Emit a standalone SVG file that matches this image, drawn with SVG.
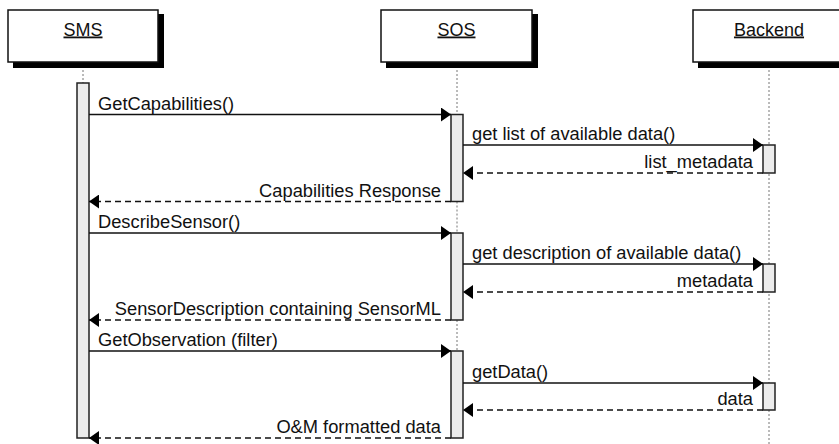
<svg xmlns="http://www.w3.org/2000/svg" width="839" height="444" viewBox="0 0 839 444">
  <style>
    text { font-family: "Liberation Sans", Arial, sans-serif; font-size: 18.3px; fill: #111; }
    .title { text-anchor: middle; text-decoration: underline; font-size: 18px; }
    .end { text-anchor: end; }
    .box { fill: #fff; stroke: #111; stroke-width: 1.5; }
    .shadow { fill: #000; }
    .life { stroke: #777; stroke-width: 1; stroke-dasharray: 2 2; fill: none; }
    .act { fill: #ececec; stroke: #222; stroke-width: 1.5; }
    .call { stroke: #111; stroke-width: 1.3; fill: none; marker-end: url(#head); }
    .ret { stroke: #111; stroke-width: 1.3; fill: none; stroke-dasharray: 6 4; marker-end: url(#head); }
  </style>
  <defs>
    <marker id="head" viewBox="0 0 10 14" refX="10" refY="7" markerWidth="10" markerHeight="14" markerUnits="userSpaceOnUse" orient="auto">
      <path d="M0,0 L10,7 L0,14 Z" fill="#000"/>
    </marker>
  </defs>

  <!-- lifelines -->
  <g id="lifelines">
    <line class="life" x1="83" y1="62" x2="83" y2="83"/>
    <line class="life" x1="457" y1="62" x2="457" y2="114.5"/>
    <line class="life" x1="457" y1="201.5" x2="457" y2="233"/>
    <line class="life" x1="457" y1="320" x2="457" y2="351"/>
    <line class="life" x1="769" y1="62" x2="769" y2="444"/>
  </g>

  <!-- participants -->
  <g id="sms">
    <rect class="shadow" x="13" y="14" width="151" height="54"/>
    <rect class="box" x="8" y="10" width="150" height="52"/>
    <text class="title" x="83" y="35.5">SMS</text>
    <rect class="act" x="77" y="83" width="12" height="355"/>
  </g>
  <g id="sos">
    <rect class="shadow" x="386" y="14" width="152" height="54"/>
    <rect class="box" x="381" y="10" width="151" height="52"/>
    <text class="title" x="456.5" y="35.5">SOS</text>
    <rect class="act" x="451" y="114.5" width="12" height="87"/>
    <rect class="act" x="451" y="233" width="12" height="87"/>
    <rect class="act" x="451" y="351" width="12" height="87"/>
  </g>
  <g id="backend">
    <rect class="shadow" x="698" y="14" width="152" height="54"/>
    <rect class="box" x="693" y="10" width="152" height="52"/>
    <text class="title" x="769" y="35.5">Backend</text>
    <rect class="act" x="763" y="145" width="12" height="28"/>
    <rect class="act" x="763" y="264" width="12" height="28"/>
    <rect class="act" x="763" y="383" width="12" height="27"/>
  </g>

  <!-- messages -->
  <g id="connectors">
    <line class="call" x1="89" y1="114.5" x2="451" y2="114.5"/>
    <text x="98" y="109.5">GetCapabilities()</text>

    <line class="call" x1="463" y1="145" x2="763" y2="145"/>
    <text x="472" y="140">get list of available data()</text>

    <line class="ret" x1="763" y1="173" x2="463" y2="173"/>
    <text class="end" x="753" y="168">list_metadata</text>

    <line class="ret" x1="451" y1="201.5" x2="89" y2="201.5"/>
    <text class="end" x="441" y="196.5">Capabilities Response</text>

    <line class="call" x1="89" y1="233" x2="451" y2="233"/>
    <text x="98" y="228">DescribeSensor()</text>

    <line class="call" x1="463" y1="264" x2="763" y2="264"/>
    <text x="472" y="259">get description of available data()</text>

    <line class="ret" x1="763" y1="292" x2="463" y2="292"/>
    <text class="end" x="753" y="287">metadata</text>

    <line class="ret" x1="451" y1="320" x2="89" y2="320"/>
    <text class="end" x="441" y="315">SensorDescription containing SensorML</text>

    <line class="call" x1="89" y1="351" x2="451" y2="351"/>
    <text x="98" y="346">GetObservation (filter)</text>

    <line class="call" x1="463" y1="383" x2="763" y2="383"/>
    <text x="472" y="378">getData()</text>

    <line class="ret" x1="763" y1="410" x2="463" y2="410"/>
    <text class="end" x="753" y="405">data</text>

    <line class="ret" x1="451" y1="438" x2="89" y2="438"/>
    <text class="end" x="441" y="433">O&amp;M formatted data</text>
  </g>
</svg>
